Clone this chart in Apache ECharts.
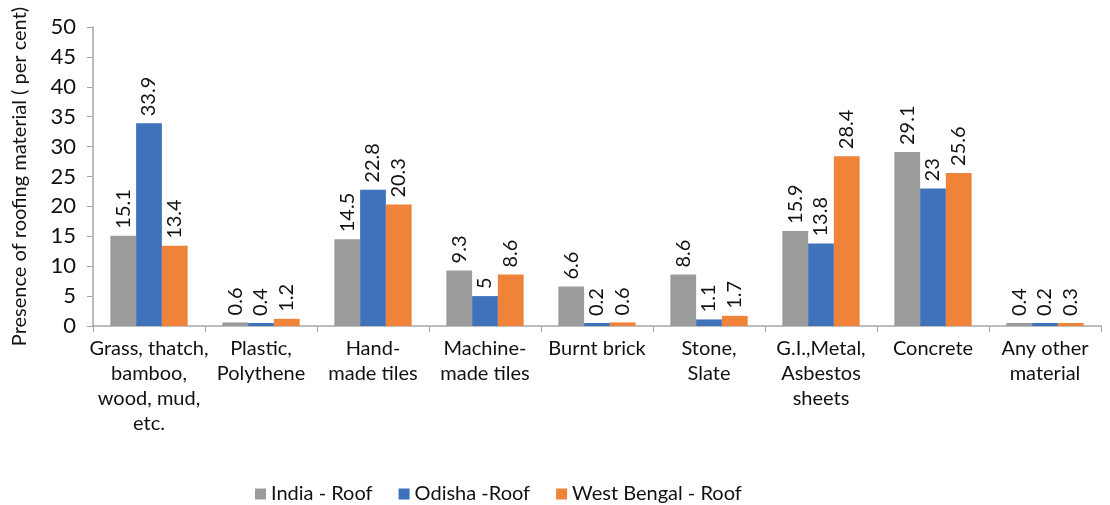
<!DOCTYPE html>
<html>
<head>
<meta charset="utf-8">
<script src="https://cdn.jsdelivr.net/npm/echarts@6/dist/echarts.min.js"></script>
<style>
  html, body { margin: 0; padding: 0; background: #fff; }
  #chart { width: 1110px; height: 505px; }
</style>
</head>
<body>
<div id="chart"></div>
<script>
const categories = [
  "Grass, thatch,\nbamboo,\nwood, mud,\netc.",
  "Plastic,\nPolythene",
  "Hand-\nmade tiles",
  "Machine-\nmade tiles",
  "Burnt brick",
  "Stone,\nSlate",
  "G.I.,Metal,\nAsbestos\nsheets",
  "Concrete",
  "Any other\nmaterial"
];
const seriesNames = ["India - Roof", "Odisha -Roof", "West Bengal - Roof"];
const indiaRoof = [15.1, 0.6, 14.5, 9.3, 6.6, 8.6, 15.9, 29.1, 0.4];
const odishaRoof = [33.9, 0.4, 22.8, 5, 0.2, 1.1, 13.8, 23, 0.2];
const westBengalRoof = [13.4, 1.2, 20.3, 8.6, 0.6, 1.7, 28.4, 25.6, 0.3];
const colors = ["#9a9c9c", "#3e72bb", "#f0833a"];

const font = "Lato, 'Noto Sans', sans-serif";
const chart = echarts.init(document.getElementById("chart"));

const makeSeries = (name, data, i) => ({
  name: name,
  type: "bar",
  data: data,
  barGap: "0%",
  barCategoryGap: "31%",
  barMinHeight: 3,
  itemStyle: { color: colors[i] },
  label: {
    show: true,
    position: "top",
    rotate: 90,
    align: "left",
    verticalAlign: "middle",
    distance: 7,
    color: "#111",
    fontSize: 20,
    fontFamily: font
  }
});

chart.setOption({
  animation: false,
  textStyle: { fontFamily: font },
  grid: {
    left: 93, right: 9, top: 27, bottom: 179,
    containLabel: false,
    outerBoundsMode: "none"
  },
  legend: {
    top: 479,
    left: 250,
    itemWidth: 11,
    itemHeight: 11,
    itemGap: 26,
    icon: "rect",
    textStyle: { fontSize: 20, color: "#111", fontFamily: font },
    data: seriesNames
  },
  xAxis: {
    type: "category",
    data: categories,
    axisLine: { lineStyle: { color: "#a6a6a6", width: 1.5 } },
    axisTick: { show: true, length: 6, lineStyle: { color: "#a6a6a6" } },
    axisLabel: {
      interval: 0,
      color: "#111",
      fontSize: 20,
      lineHeight: 25,
      margin: 10,
      fontFamily: font
    }
  },
  yAxis: {
    type: "value",
    min: 0,
    max: 50,
    interval: 5,
    name: "Presence of roofing material ( per cent)",
    nameLocation: "middle",
    nameGap: 63,
    nameTextStyle: { fontSize: 20, color: "#111", fontFamily: font },
    axisLine: { show: true, lineStyle: { color: "#a6a6a6", width: 1.5 } },
    axisTick: { show: true, length: 6, lineStyle: { color: "#a6a6a6" } },
    splitLine: { show: false },
    axisLabel: { color: "#111", fontSize: 22, margin: 17, fontFamily: font }
  },
  series: [
    makeSeries(seriesNames[0], indiaRoof, 0),
    makeSeries(seriesNames[1], odishaRoof, 1),
    makeSeries(seriesNames[2], westBengalRoof, 2)
  ]
});
</script>
</body>
</html>
